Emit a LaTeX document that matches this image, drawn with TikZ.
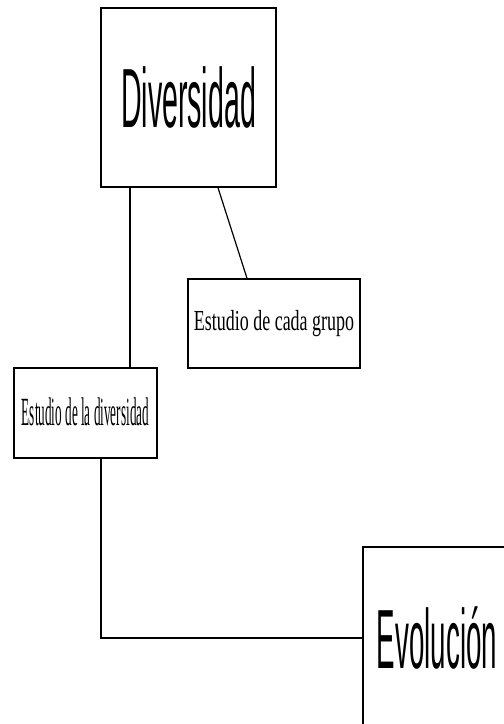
\documentclass[tikz,border=0pt]{standalone}
\usepackage{graphicx}
\usepackage{fontspec}
\setmainfont{Liberation Serif}
\newfontfamily\headfont{Liberation Sans}

\begin{document}
\begin{tikzpicture}[x=1pt, y=-1pt, line width=1.2pt]
    \tikzstyle{cajon}=[draw, line width=1.5pt, inner sep=0pt]
    \tikzstyle{lazo}=[line width=1.2pt]

    \useasboundingbox (0, 0) rectangle (504, 724);

    % cajas
    \node[cajon, minimum width=175pt, minimum height=179pt] (diversidad) at (188.5, 97.5)
        {\headfont\fontsize{84}{84}\selectfont\scalebox{0.34}[1]{Diversidad}};
    \node[cajon, minimum width=172pt, minimum height=89pt] (grupo) at (274, 323.5)
        {\raisebox{2pt}{\fontsize{29}{30}\selectfont\scalebox{0.62}[1]{Estudio de cada grupo}}};
    \node[cajon, minimum width=143pt, minimum height=90pt] (ladiv) at (85.5, 413)
        {\raisebox{2pt}{\fontsize{40}{40}\selectfont\scalebox{0.33}[1]{Estudio de la diversidad}}};
    \node[cajon, minimum width=148pt, minimum height=182pt] (evolucion) at (437, 638)
        {\headfont\fontsize{84}{84}\selectfont\scalebox{0.33}[1]{Evolución}};

    % lazos
    \draw[lazo] ([xshift=44.5pt]ladiv.north) -- ([xshift=44.5pt]ladiv.north |- diversidad.south);
    \draw[lazo] ([xshift=29.5pt]diversidad.south) -- ([xshift=-27pt]grupo.north);
    \draw[lazo] ([xshift=15.5pt]ladiv.south) |- (evolucion.west);

\end{tikzpicture}
\end{document}
